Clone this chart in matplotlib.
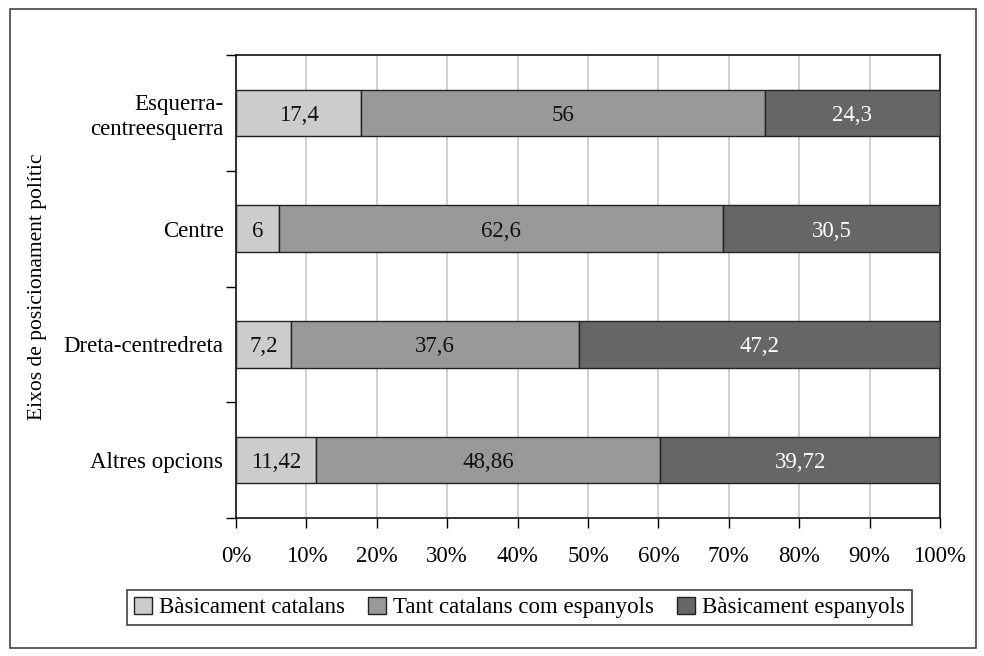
import matplotlib
matplotlib.use("Agg")
import matplotlib.pyplot as plt
from matplotlib.patches import Rectangle
import numpy as np

categories = ["Esquerra-\ncentreesquerra", "Centre", "Dreta-centredreta", "Altres opcions"]
series_names = ["Bàsicament catalans", "Tant catalans com espanyols", "Bàsicament espanyols"]
catalans = [17.4, 6, 7.2, 11.42]
tant = [56, 62.6, 37.6, 48.86]
espanyols = [24.3, 30.5, 47.2, 39.72]
labels = [["17,4", "6", "7,2", "11,42"],
          ["56", "62,6", "37,6", "48,86"],
          ["24,3", "30,5", "47,2", "39,72"]]
xticklabels = ["0%", "10%", "20%", "30%", "40%", "50%", "60%", "70%", "80%", "90%", "100%"]
ylabel = "Eixos de posicionament polític"

colors = ["#cccccc", "#999999", "#666666"]
text_colors = ["#111111", "#111111", "#ffffff"]

plt.rcParams['font.family'] = ['Liberation Serif', 'DejaVu Serif']
fs = 16.5

W, H = 984, 656
fig = plt.figure(figsize=(W / 100, H / 100), dpi=100)
ax = fig.add_axes([236 / W, 1 - 518 / H, (940 - 236) / W, (518 - 55) / H])

data = np.array([catalans, tant, espanyols], dtype=float)
totals = data.sum(axis=0)
pct = data / totals * 100
n = len(categories)
ypos = np.arange(n)[::-1]
left = np.zeros(n)
for i in range(3):
    ax.barh(ypos, pct[i], left=left, height=0.4, color=colors[i],
            edgecolor="#222222", linewidth=1.0, label=series_names[i], zorder=3)
    for j in range(n):
        ax.text(left[j] + pct[i][j] / 2, ypos[j], labels[i][j], ha="center", va="center_baseline",
                fontsize=fs, color=text_colors[i], zorder=4)
    left += pct[i]

ax.set_xlim(0, 100)
ax.set_ylim(-0.5, n - 0.5)
ax.set_xticks(np.arange(0, 101, 10))
ax.set_xticklabels(xticklabels, fontsize=fs)
ax.set_yticks(ypos)
ax.set_yticklabels(categories, fontsize=fs, ha="right", multialignment="right")
ax.set_yticks(np.arange(-0.5, n, 1.0), minor=True)
ax.tick_params(axis="y", which="major", length=0, pad=9)
ax.tick_params(axis="y", which="minor", length=7, width=1, direction="out")
ax.tick_params(axis="x", which="major", length=7, width=1, direction="out", pad=13)
ax.xaxis.grid(True, color="#c8c8c8", linewidth=1.2, zorder=0)
ax.set_axisbelow(True)
for s in ax.spines.values():
    s.set_color("#111111")
    s.set_linewidth(1.2)

fig.text(38 / W, 1 - 287 / H, ylabel, rotation=90, ha="center", va="center", fontsize=fs - 1)

leg = ax.legend(loc="center", bbox_to_anchor=(519.5 / W, 1 - 607.5 / H),
                bbox_transform=fig.transFigure, ncol=3, fontsize=fs, frameon=True,
                fancybox=False, edgecolor="#111111", handlelength=0.8, handleheight=0.8,
                handletextpad=0.3, columnspacing=1.0, borderpad=0.3)
leg.get_frame().set_linewidth(1.2)

fig.patches.append(Rectangle((10 / W, 1 - 648 / H), (976 - 10) / W, (648 - 9) / H,
                             transform=fig.transFigure, fill=False, edgecolor="#444444",
                             linewidth=1.2))

fig.savefig("out.png", dpi=100)
